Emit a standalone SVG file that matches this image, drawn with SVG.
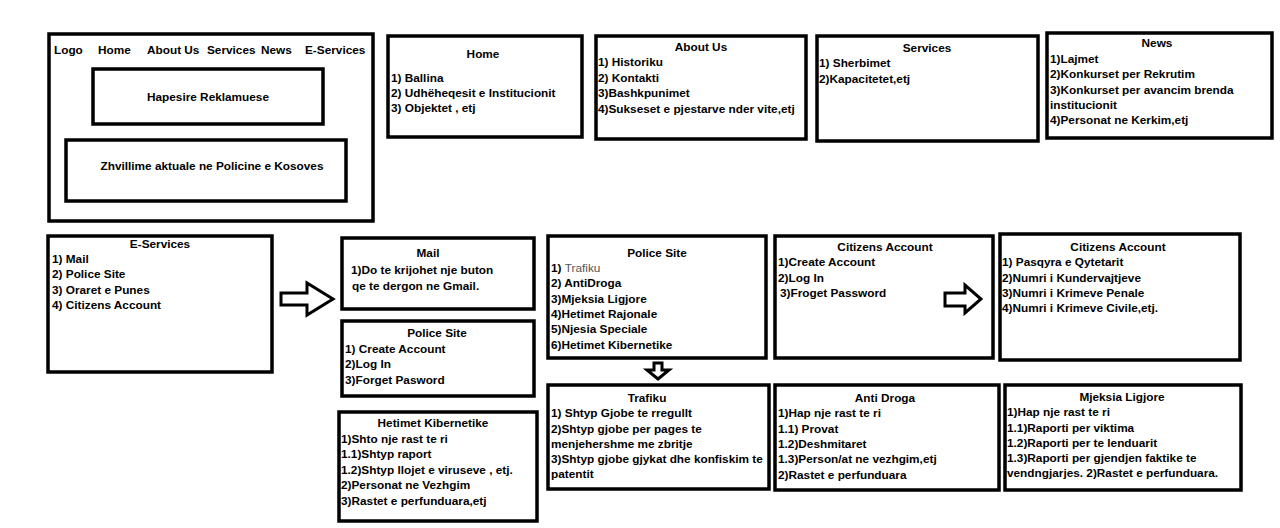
<svg xmlns="http://www.w3.org/2000/svg" width="1280" height="528" viewBox="0 0 1280 528">
<style>
.box{fill:#fff;stroke:#000;stroke-width:3.5}
.t{font-family:"Liberation Sans",Arial,sans-serif;font-weight:bold;font-size:11.8px;fill:#000}
.c{text-anchor:middle}
.arr{fill:#fff;stroke:#000;stroke-width:3;stroke-linejoin:miter}
.thin{font-weight:normal;fill:#555}
</style>
<rect width="1280" height="528" fill="#fff"/>
<g id="main-page">
<rect class="box" x="49" y="34" width="324" height="187"/>
<text class="t" x="54" y="54">Logo</text>
<text class="t" x="98" y="54">Home</text>
<text class="t" x="147" y="54">About Us</text>
<text class="t" x="207" y="54">Services</text>
<text class="t" x="261" y="54">News</text>
<text class="t" x="305" y="54">E-Services</text>
</g>
<g id="hapesire">
<rect class="box" x="93" y="69" width="230" height="55"/>
<text class="t c" x="208" y="101">Hapesire Reklamuese</text>
</g>
<g id="zhvillime">
<rect class="box" x="66" y="140" width="280" height="61"/>
<text class="t c" x="212" y="170">Zhvillime aktuale ne Policine e Kosoves</text>
</g>
<g id="home">
<rect class="box" x="388" y="36" width="194" height="101"/>
<text class="t c" x="483" y="58">Home</text>
<text class="t" x="391" y="82">1) Ballina</text>
<text class="t" x="391" y="97">2) Udhëheqesit e Institucionit</text>
<text class="t" x="391" y="112">3) Objektet , etj</text>
</g>
<g id="about-us">
<rect class="box" x="596" y="36" width="210" height="103"/>
<text class="t c" x="701" y="51">About Us</text>
<text class="t" x="598" y="66">1) Historiku</text>
<text class="t" x="598" y="82">2) Kontakti</text>
<text class="t" x="598" y="97">3)Bashkpunimet</text>
<text class="t" x="598" y="113">4)Sukseset e pjestarve nder vite,etj</text>
</g>
<g id="services">
<rect class="box" x="817" y="36" width="221" height="105"/>
<text class="t c" x="927" y="52">Services</text>
<text class="t" x="819" y="67">1) Sherbimet</text>
<text class="t" x="819" y="83">2)Kapacitetet,etj</text>
</g>
<g id="news">
<rect class="box" x="1047" y="33" width="225" height="105"/>
<text class="t c" x="1157" y="47">News</text>
<text class="t" x="1050" y="63">1)Lajmet</text>
<text class="t" x="1050" y="78">2)Konkurset per Rekrutim</text>
<text class="t" x="1050" y="94">3)Konkurset per avancim brenda</text>
<text class="t" x="1050" y="109">institucionit</text>
<text class="t" x="1050" y="124">4)Personat ne Kerkim,etj</text>
</g>
<g id="e-services">
<rect class="box" x="48" y="236" width="224" height="136"/>
<text class="t c" x="160" y="248">E-Services</text>
<text class="t" x="52" y="263">1) Mail</text>
<text class="t" x="52" y="278">2) Police Site</text>
<text class="t" x="52" y="294">3) Oraret e Punes</text>
<text class="t" x="52" y="309">4) Citizens Account</text>
</g>
<g id="mail">
<rect class="box" x="342" y="238" width="192" height="71"/>
<text class="t c" x="428" y="257">Mail</text>
<text class="t" x="351" y="274">1)Do te krijohet nje buton</text>
<text class="t" x="352" y="290">qe te dergon ne Gmail.</text>
</g>
<g id="police-site-account">
<rect class="box" x="342" y="321" width="192" height="75"/>
<text class="t c" x="437" y="337">Police Site</text>
<text class="t" x="345" y="353">1) Create Account</text>
<text class="t" x="345" y="368">2)Log In</text>
<text class="t" x="345" y="384">3)Forget Pasword</text>
</g>
<g id="police-site">
<rect class="box" x="548" y="236" width="218" height="122"/>
<text class="t c" x="657" y="257">Police Site</text>
<text class="t" x="551" y="272">1) <tspan class="thin">Trafiku</tspan></text>
<text class="t" x="551" y="287">2) AntiDroga</text>
<text class="t" x="551" y="303">3)Mjeksia Ligjore</text>
<text class="t" x="551" y="318">4)Hetimet Rajonale</text>
<text class="t" x="551" y="333">5)Njesia Speciale</text>
<text class="t" x="551" y="349">6)Hetimet Kibernetike</text>
</g>
<g id="citizens-account-login">
<rect class="box" x="775" y="236" width="218" height="122"/>
<text class="t c" x="885" y="251">Citizens Account</text>
<text class="t" x="778" y="266">1)Create Account</text>
<text class="t" x="778" y="282">2)Log In</text>
<text class="t" x="780" y="297">3)Froget Password</text>
</g>
<g id="citizens-account">
<rect class="box" x="1000" y="234" width="240" height="126"/>
<text class="t c" x="1118" y="251">Citizens Account</text>
<text class="t" x="1002" y="266">1) Pasqyra e Qytetarit</text>
<text class="t" x="1002" y="282">2)Numri i Kundervajtjeve</text>
<text class="t" x="1002" y="297">3)Numri i Krimeve Penale</text>
<text class="t" x="1002" y="312">4)Numri i Krimeve Civile,etj.</text>
</g>
<g id="hetimet-kibernetike">
<rect class="box" x="339" y="412" width="198" height="109"/>
<text class="t c" x="433" y="427">Hetimet Kibernetike</text>
<text class="t" x="341" y="443">1)Shto nje rast te ri</text>
<text class="t" x="341" y="458">1.1)Shtyp raport</text>
<text class="t" x="341" y="474">1.2)Shtyp llojet e viruseve , etj.</text>
<text class="t" x="341" y="489">2)Personat ne Vezhgim</text>
<text class="t" x="341" y="505">3)Rastet e perfunduara,etj</text>
</g>
<g id="trafiku">
<rect class="box" x="548" y="385" width="221" height="104"/>
<text class="t c" x="647" y="402">Trafiku</text>
<text class="t" x="551" y="417">1) Shtyp Gjobe te rregullt</text>
<text class="t" x="551" y="433">2)Shtyp gjobe per pages te</text>
<text class="t" x="551" y="448">menjehershme me zbritje</text>
<text class="t" x="551" y="463">3)Shtyp gjobe gjykat dhe konfiskim te</text>
<text class="t" x="551" y="478">patentit</text>
</g>
<g id="anti-droga">
<rect class="box" x="775" y="385" width="224" height="105"/>
<text class="t c" x="885" y="402">Anti Droga</text>
<text class="t" x="778" y="417">1)Hap nje rast te ri</text>
<text class="t" x="778" y="433">1.1) Provat</text>
<text class="t" x="778" y="448">1.2)Deshmitaret</text>
<text class="t" x="778" y="463">1.3)Person/at ne vezhgim,etj</text>
<text class="t" x="778" y="479">2)Rastet e perfunduara</text>
</g>
<g id="mjeksia-ligjore">
<rect class="box" x="1005" y="385" width="236" height="105"/>
<text class="t c" x="1122" y="401">Mjeksia Ligjore</text>
<text class="t" x="1007" y="416">1)Hap nje rast te ri</text>
<text class="t" x="1007" y="432">1.1)Raporti per viktima</text>
<text class="t" x="1007" y="447">1.2)Raporti per te lenduarit</text>
<text class="t" x="1007" y="462">1.3)Raporti per gjendjen faktike te</text>
<text class="t" x="1007" y="477">vendngjarjes. 2)Rastet e perfunduara.</text>
</g>
<g id="connectors">
<polygon class="arr" points="281,293 307,293 307,283 333,299 307,315 307,305 281,305"/>
<polygon class="arr" points="945,293 965,293 965,285 981,299 965,313 965,306 945,306"/>
<polygon class="arr" points="654,363 662,363 662,370 669,370 658,379 647,370 654,370"/>
</g>
</svg>
